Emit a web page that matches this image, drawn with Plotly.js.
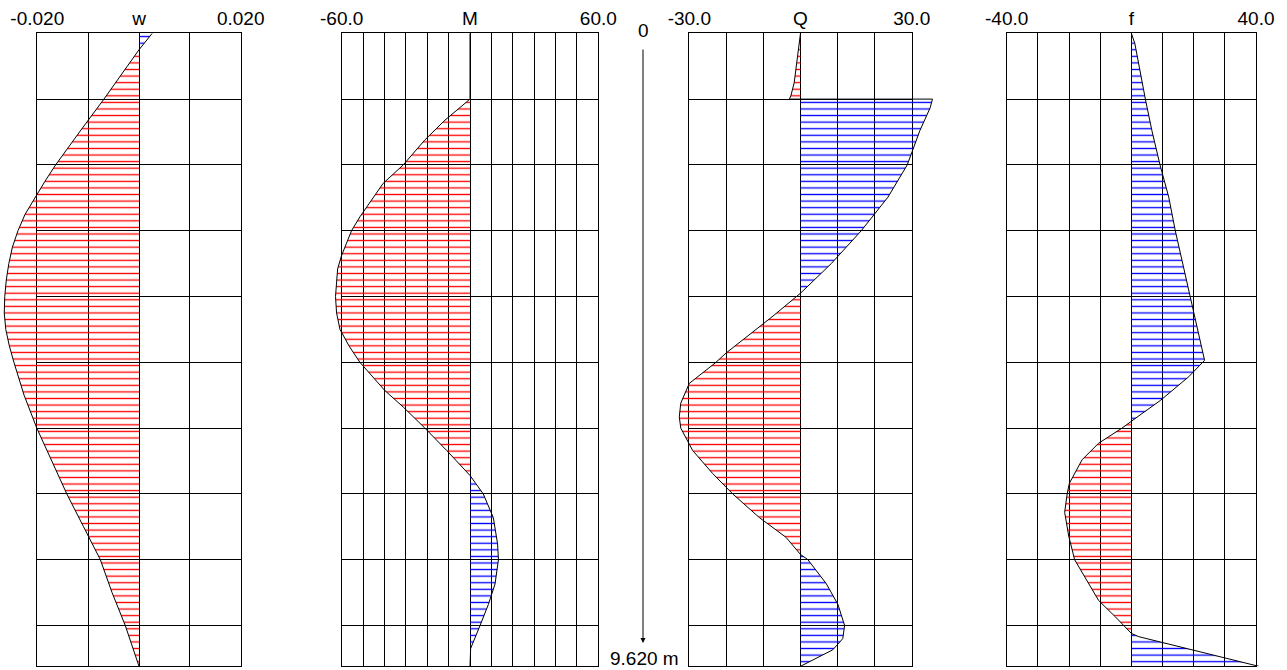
<!DOCTYPE html>
<html><head><meta charset="utf-8">
<script src="https://cdn.plot.ly/plotly-3.0.1.min.js"></script>
<style>html,body{margin:0;padding:0;background:#fff}#chart{width:1287px;height:670px}</style>
</head><body><div id="chart"></div>
<script>
// ---- data (depth in m) ----
const depthMax = 9.62;
const depthGrid = [0, 1, 2, 3, 4, 5, 6, 7, 8, 9, 9.62];

const wDepth = [0, 0.25, 0.5, 1, 1.5, 2, 2.25, 2.5, 2.75, 3, 3.25, 3.5, 3.75, 4, 4.25, 4.5, 4.75, 5, 5.5, 6, 6.5, 7, 7.5, 8, 8.5, 9, 9.62];
const wValue = [0.0026, 0, -0.0023, -0.0069, -0.0117, -0.0164, -0.0185, -0.0205, -0.0224, -0.0238, -0.0249, -0.0256, -0.0261, -0.0264, -0.0265, -0.0262, -0.0255, -0.0246, -0.0226, -0.0201, -0.0171, -0.0142, -0.0109, -0.0076, -0.0053, -0.0027, 0.0];

const mDepth = [0, 1.0, 1.32, 1.62, 2.0, 2.28, 2.79, 3.0, 3.38, 3.58, 4.0, 4.25, 4.5, 4.75, 5.0, 5.43, 5.68, 6.0, 6.34, 6.72, 7.0, 7.36, 7.76, 8.0, 8.37, 8.68, 9.0, 9.35, 9.62];
const mValue = [0, 0, -11.7, -21.1, -31.2, -40.6, -51.5, -55.4, -60.1, -61.9, -62.9, -62.4, -60.8, -56.6, -51.5, -39.8, -31.2, -21.1, -10.9, 0, 6.2, 10.9, 12.9, 13.3, 11.7, 8.6, 4.7, 0.3, 0];

const qDepth = [0, 0.25, 0.5, 0.75, 0.95, 1.0, 1.0, 1.13, 1.48, 2.0, 2.49, 3.0, 3.5, 3.95, 4.31, 4.51, 4.79, 4.86, 5.0, 5.32, 5.62, 5.83, 6.0, 6.34, 6.69, 7.0, 7.36, 7.66, 7.92, 8.0, 8.36, 8.68, 9.0, 9.2, 9.37, 9.62];
const qValue = [0, -0.5, -1.1, -1.7, -2.6, -3.0, 35.6, 35.0, 32.2, 28.8, 23.6, 16.4, 8.3, 0, -7.7, -12.2, -18.3, -20.1, -22.8, -30.0, -32.3, -32.7, -32.3, -29.1, -23.7, -18.3, -11.1, -3.9, 0, 2.0, 6.9, 10.1, 11.9, 11.4, 8.7, 0];

const fDepth = [0, 0.15, 1.0, 1.48, 2.0, 2.49, 3.0, 3.5, 4.0, 4.5, 4.82, 4.97, 5.22, 5.58, 5.78, 5.9, 6.0, 6.23, 6.48, 6.84, 7.0, 7.28, 7.64, 8.0, 8.36, 8.62, 8.87, 9.0, 9.12, 9.17, 9.62];
const fValue = [0, 1.1, 4.5, 6.6, 9.2, 12.0, 14.1, 16.5, 18.9, 21.4, 22.9, 23.5, 18.4, 9.3, 3.4, 0, -3.0, -10.5, -15.8, -19.9, -20.6, -21.4, -20.1, -18.2, -13.7, -10.5, -5.1, -2.5, 0, 2.4, 40.9];

// ---- tick labels ----
const wTicks = [-0.02, -0.01, 0, 0.01, 0.02];
const wTickText = ['-0.020', '', 'w', '', '0.020'];
const mTicks = [-60, -50, -40, -30, -20, -10, 0, 10, 20, 30, 40, 50, 60];
const mTickText = ['-60.0', '', '', '', '', '', 'M', '', '', '', '', '', '60.0'];
const qTicks = [-30, -20, -10, 0, 10, 20, 30];
const qTickText = ['-30.0', '', '', 'Q', '', '', '30.0'];
const fTicks = [-40, -30, -20, -10, 0, 10, 20, 30, 40];
const fTickText = ['-40.0', '', '', '', 'f', '', '', '', '40.0'];

// ---- layout geometry ----
const W = 1287, H = 670;
const TOP = 33.3, BOTTOM = 666.3;
const yDomain = [1 - BOTTOM / H, 1 - TOP / H];
const FONT = {family: 'Liberation Sans, Arial, sans-serif', size: 19, color: '#000'};
const HATCH = 65.8 / 10; // px between hatch lines

const panels = [
  {depth: wDepth, value: wValue, ticks: wTicks, text: wTickText, px: [37.3, 240.7], pad: [36, 30]},
  {depth: mDepth, value: mValue, ticks: mTicks, text: mTickText, px: [341.7, 598.3], pad: [30, 30]},
  {depth: qDepth, value: qValue, ticks: qTicks, text: qTickText, px: [689.3, 911.7], pad: [30, 30]},
  {depth: fDepth, value: fValue, ticks: fTicks, text: fTickText, px: [1006.7, 1256], pad: [30, 30]}
];

function clipSign(depth, value, sign) {
  const xs = [], ys = [];
  for (let i = 0; i < depth.length; i++) {
    if (i > 0) {
      const a = value[i - 1], b = value[i];
      if (a * b < 0) {
        const t = a / (a - b);
        xs.push(0); ys.push(depth[i - 1] + t * (depth[i] - depth[i - 1]));
      }
    }
    const v = value[i];
    xs.push(sign > 0 ? Math.max(v, 0) : Math.min(v, 0));
    ys.push(depth[i]);
  }
  return {xs, ys};
}

const layout = {
  width: W, height: H,
  margin: {l: 0, r: 0, t: 0, b: 0, pad: 0},
  paper_bgcolor: '#fff', plot_bgcolor: 'rgba(0,0,0,0)',
  showlegend: false,
  yaxis: {
    domain: yDomain, range: [depthMax, 0], tickvals: depthGrid, showticklabels: false,
    showgrid: true, gridcolor: '#000', gridwidth: 1, zeroline: false,
    showline: true, mirror: 'all', linecolor: '#000', linewidth: 1, ticks: '', anchor: 'x', fixedrange: true
  },
  annotations: [
    {xref: 'paper', yref: 'paper', x: 643 / W, y: 1 - 30 / H, text: '0', showarrow: false, font: FONT, xanchor: 'center', yanchor: 'middle'},
    {xref: 'paper', yref: 'paper', x: 643 / W, y: 1 - 643 / H, text: '', showarrow: true, ax: 0, ay: -(643 - 48),
     arrowhead: 2, arrowsize: 1, arrowwidth: 1, arrowcolor: '#000'},
    {xref: 'paper', yref: 'paper', x: 644 / W, y: 1 - 658 / H, text: depthMax.toFixed(3) + ' m', showarrow: false, font: FONT, xanchor: 'center', yanchor: 'middle'}
  ]
};

const gridTraces = [], traces = [];
panels.forEach((p, i) => {
  const lo = p.ticks[0], hi = p.ticks[p.ticks.length - 1];
  const [L, R] = p.px;
  const ppu = (R - L) / (hi - lo);
  const gx = i === 0 ? 'x' : 'x' + (i + 1);
  layout[i === 0 ? 'xaxis' : 'xaxis' + (i + 1)] = {
    domain: [L / W, R / W], range: [lo, hi], tickvals: p.ticks, ticktext: p.text, side: 'top',
    showgrid: true, gridcolor: '#000', gridwidth: 1, zeroline: false,
    showline: true, linecolor: '#000', linewidth: 1, mirror: true, ticks: '',
    tickfont: FONT, anchor: 'y', fixedrange: true
  };
  // invisible placeholder so the grid subplot is created
  gridTraces.push({x: [0], y: [0], xaxis: gx, yaxis: 'y', type: 'scatter', mode: 'lines', line: {width: 0}, hoverinfo: 'skip'});

  const dx = 'x' + (i + 5), dy = 'y' + (i + 2);
  layout['xaxis' + (i + 5)] = {
    domain: [Math.max(0, L - p.pad[0]) / W, Math.min(W, R + p.pad[1]) / W],
    range: [lo - p.pad[0] / ppu, hi + p.pad[1] / ppu],
    visible: false, fixedrange: true, anchor: dy
  };
  layout['yaxis' + (i + 2)] = {domain: yDomain, range: [depthMax, 0], visible: false, fixedrange: true, anchor: dx};

  [[-1, '#ff0000'], [1, '#0000ff']].forEach(([s, col]) => {
    const c = clipSign(p.depth, p.value, s);
    traces.push({
      x: c.xs, y: c.ys, xaxis: dx, yaxis: dy, type: 'scatter', mode: 'lines',
      line: {width: 0}, fill: 'tozerox', fillcolor: 'rgba(0,0,0,0)',
      fillpattern: {shape: '-', fgcolor: col, bgcolor: 'rgba(0,0,0,0)', size: HATCH, solidity: 0.2, fillmode: 'replace'},
      hoverinfo: 'skip'
    });
  });
  traces.push({
    x: p.value, y: p.depth, xaxis: dx, yaxis: dy, type: 'scatter', mode: 'lines',
    line: {color: '#000', width: 1}, hoverinfo: 'skip'
  });
});

Plotly.newPlot('chart', gridTraces.concat(traces), layout, {displayModeBar: false, staticPlot: true});
</script>
</body></html>
